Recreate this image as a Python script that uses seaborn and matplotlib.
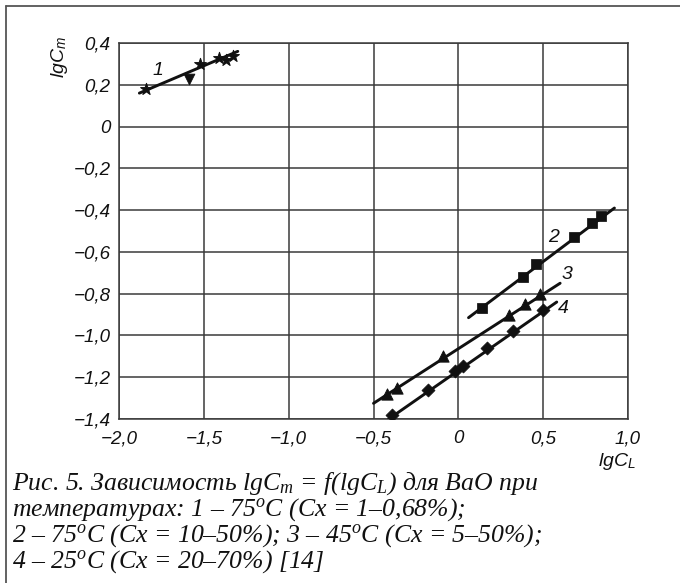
import matplotlib
matplotlib.use("Agg")
import matplotlib.pyplot as plt
from matplotlib.lines import Line2D
import seaborn as sns

# === DATA ===
# series 1: 75 C (Cx = 1-0,68%)
s1_x = [-1.84, -1.52, -1.41, -1.37, -1.33]
s1_y = [0.18, 0.30, 0.33, 0.32, 0.34]
s1_extra_x = [-1.59]
s1_extra_y = [0.23]
fit1_x = [-1.88, -1.30]
fit1_y = [0.16, 0.36]

# series 2: 75 C (Cx = 10-50%)
s2_x = [0.14, 0.38, 0.46, 0.68, 0.79, 0.84]
s2_y = [-0.87, -0.72, -0.66, -0.53, -0.46, -0.43]
fit2_x = [0.06, 0.92]
fit2_y = [-0.915, -0.39]

# series 3: 45 C (Cx = 5-50%)
s3_x = [-0.42, -0.36, -0.09, 0.30, 0.39, 0.48]
s3_y = [-1.28, -1.25, -1.10, -0.90, -0.85, -0.80]
fit3_x = [-0.50, 0.60]
fit3_y = [-1.325, -0.75]

# series 4: 25 C (Cx = 20-70%)
s4_x = [-0.39, -0.18, -0.02, 0.03, 0.17, 0.32, 0.50]
s4_y = [-1.38, -1.26, -1.17, -1.145, -1.06, -0.98, -0.88]
fit4_x = [-0.41, 0.58]
fit4_y = [-1.40, -0.84]

curve_labels = ["1", "2", "3", "4"]
label_x = [-1.77, 0.56, 0.64, 0.62]
label_y = [0.27, -0.53, -0.71, -0.87]

x_ticks = [-2.0, -1.5, -1.0, -0.5, 0.0, 0.5, 1.0]
x_tick_labels = ["\u22122,0", "\u22121,5", "\u22121,0", "\u22120,5", "0", "0,5", "1,0"]
y_ticks = [-1.4, -1.2, -1.0, -0.8, -0.6, -0.4, -0.2, 0.0, 0.2, 0.4]
y_tick_labels = ["\u22121,4", "\u22121,2", "\u22121,0", "\u22120,8", "\u22120,6",
                 "\u22120,4", "\u22120,2", "0", "0,2", "0,4"]

caption_lines = [
    "Рис. 5. Зависимость lgC$_m$ = f(lgC$_L$) для BaO при",
    "температурах: 1 – 75$^o$C (Cx = 1–0,68%);",
    "2 – 75$^o$C (Cx = 10–50%); 3 – 45$^o$C (Cx = 5–50%);",
    "4 – 25$^o$C (Cx = 20–70%) [14]",
]

# === STYLE ===
sns.set_style("white")
plt.rcParams["font.family"] = ["Liberation Sans", "DejaVu Sans"]
plt.rcParams["mathtext.fontset"] = "custom"
plt.rcParams["mathtext.it"] = "Liberation Serif:italic"
plt.rcParams["mathtext.rm"] = "Liberation Serif:italic"
plt.rcParams["mathtext.sf"] = "Liberation Sans:italic"

INK = "#111111"
GRID = "#3a3a3a"

fig = plt.figure(figsize=(6.8, 5.83), dpi=100)
ax = fig.add_axes([119 / 680, 1 - 419 / 583, (628 - 119) / 680, (419 - 43) / 583])

# fit lines
for fx, fy in [(fit1_x, fit1_y), (fit2_x, fit2_y), (fit3_x, fit3_y), (fit4_x, fit4_y)]:
    sns.lineplot(x=fx, y=fy, ax=ax, color=INK, linewidth=2.1, zorder=3)

# markers
sns.scatterplot(x=s1_x, y=s1_y, ax=ax, marker="*", s=80, color=INK, edgecolor=INK, zorder=4)
sns.scatterplot(x=s1_extra_x, y=s1_extra_y, ax=ax, marker="v", s=60, color=INK, edgecolor=INK, zorder=4)
sns.scatterplot(x=s2_x, y=s2_y, ax=ax, marker="s", s=46, color=INK, edgecolor=INK, zorder=4)
sns.scatterplot(x=s3_x, y=s3_y, ax=ax, marker="^", s=66, color=INK, edgecolor=INK, zorder=4)
sns.scatterplot(x=s4_x, y=s4_y, ax=ax, marker="D", s=44, color=INK, edgecolor=INK, zorder=4)

for lab, lx, ly in zip(curve_labels, label_x, label_y):
    ax.text(lx, ly, lab, fontsize=14, style="italic", color=INK,
            ha="center", va="center", zorder=5)

ax.set_xlim(-2.0, 1.0)
ax.set_ylim(-1.4, 0.4)
ax.set_xticks(x_ticks)
ax.set_xticklabels(x_tick_labels, fontsize=13.5, style="italic")
ax.set_yticks(y_ticks)
ax.set_yticklabels(y_tick_labels, fontsize=13.5, style="italic")
ax.tick_params(axis="both", length=0, colors=INK)
ax.tick_params(axis="x", pad=8)
ax.tick_params(axis="y", pad=6)
ax.grid(True, color=GRID, linewidth=1.1)
for sp in ax.spines.values():
    sp.set_color(GRID)
    sp.set_linewidth(1.1)

# axis titles
fig.text(59 / 680, 1 - 57 / 583, "lgC$_\\mathsf{m}$", rotation=90, fontsize=14,
         style="italic", ha="center", va="center", color=INK)
fig.text(617 / 680, 1 - 461 / 583, "lgC$_\\mathsf{L}$", fontsize=14,
         style="italic", ha="center", va="center", color=INK)

# caption
cap_y = [484, 510, 536, 562]
for line, yy in zip(caption_lines, cap_y):
    fig.text(12 / 680, 1 - yy / 583, line, fontsize=18.5, family="Liberation Serif",
             style="italic", ha="left", va="center", color=INK)

# frame around the figure (top and left edges)
fig.add_artist(Line2D([6 / 680, 1.0], [1 - 6 / 583, 1 - 6 / 583],
                      transform=fig.transFigure, color="#555555", linewidth=1.3))
fig.add_artist(Line2D([6 / 680, 6 / 680], [0.0, 1 - 6 / 583],
                      transform=fig.transFigure, color="#555555", linewidth=1.3))

fig.savefig("out.png", dpi=100)
plt.close(fig)
